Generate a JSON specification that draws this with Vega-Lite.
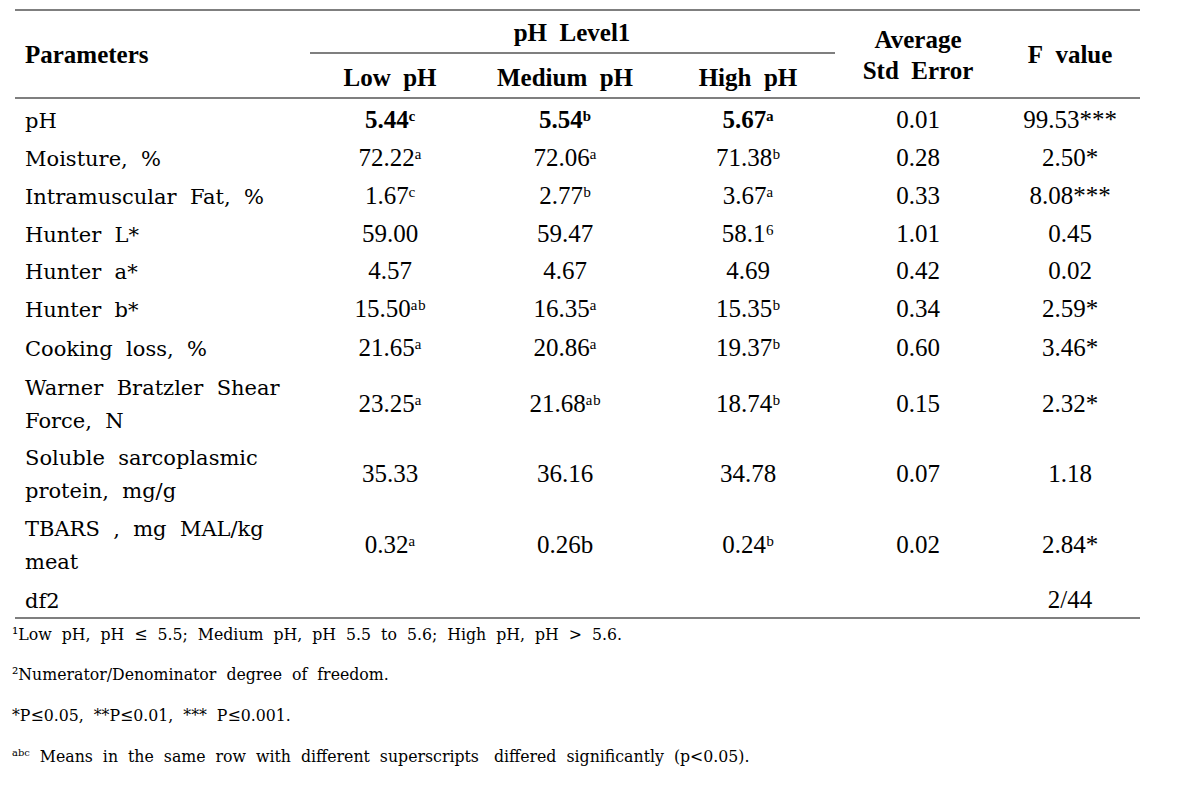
{
  "$schema": "https://vega.github.io/schema/vega-lite/v6.json",
  "width": 1188,
  "height": 789,
  "autosize": {"type": "none"},
  "padding": 0,
  "background": "white",
  "config": {"view": {"stroke": null}},
  "datasets": {
    "cells": [
      {"r": 1, "c": 0, "k": "p", "t": "pH"},
      {"r": 1, "c": 1, "k": "b", "t": "5.44\u1d9c"},
      {"r": 1, "c": 2, "k": "b", "t": "5.54\u1d47"},
      {"r": 1, "c": 3, "k": "b", "t": "5.67\u1d43"},
      {"r": 1, "c": 4, "k": "v", "t": "0.01"},
      {"r": 1, "c": 5, "k": "v", "t": "99.53***"},
      {"r": 2, "c": 0, "k": "p", "t": "Moisture,\u00a0 %"},
      {"r": 2, "c": 1, "k": "v", "t": "72.22\u1d43"},
      {"r": 2, "c": 2, "k": "v", "t": "72.06\u1d43"},
      {"r": 2, "c": 3, "k": "v", "t": "71.38\u1d47"},
      {"r": 2, "c": 4, "k": "v", "t": "0.28"},
      {"r": 2, "c": 5, "k": "v", "t": "2.50*"},
      {"r": 3, "c": 0, "k": "p", "t": "Intramuscular\u00a0 Fat,\u00a0 %"},
      {"r": 3, "c": 1, "k": "v", "t": "1.67\u1d9c"},
      {"r": 3, "c": 2, "k": "v", "t": "2.77\u1d47"},
      {"r": 3, "c": 3, "k": "v", "t": "3.67\u1d43"},
      {"r": 3, "c": 4, "k": "v", "t": "0.33"},
      {"r": 3, "c": 5, "k": "v", "t": "8.08***"},
      {"r": 4, "c": 0, "k": "p", "t": "Hunter\u00a0 L*"},
      {"r": 4, "c": 1, "k": "v", "t": "59.00"},
      {"r": 4, "c": 2, "k": "v", "t": "59.47"},
      {"r": 4, "c": 3, "k": "v", "t": "58.1\u2076"},
      {"r": 4, "c": 4, "k": "v", "t": "1.01"},
      {"r": 4, "c": 5, "k": "v", "t": "0.45"},
      {"r": 5, "c": 0, "k": "p", "t": "Hunter\u00a0 a*"},
      {"r": 5, "c": 1, "k": "v", "t": "4.57"},
      {"r": 5, "c": 2, "k": "v", "t": "4.67"},
      {"r": 5, "c": 3, "k": "v", "t": "4.69"},
      {"r": 5, "c": 4, "k": "v", "t": "0.42"},
      {"r": 5, "c": 5, "k": "v", "t": "0.02"},
      {"r": 6, "c": 0, "k": "p", "t": "Hunter\u00a0 b*"},
      {"r": 6, "c": 1, "k": "v", "t": "15.50\u1d43\u1d47"},
      {"r": 6, "c": 2, "k": "v", "t": "16.35\u1d43"},
      {"r": 6, "c": 3, "k": "v", "t": "15.35\u1d47"},
      {"r": 6, "c": 4, "k": "v", "t": "0.34"},
      {"r": 6, "c": 5, "k": "v", "t": "2.59*"},
      {"r": 7, "c": 0, "k": "p", "t": "Cooking\u00a0 loss,\u00a0 %"},
      {"r": 7, "c": 1, "k": "v", "t": "21.65\u1d43"},
      {"r": 7, "c": 2, "k": "v", "t": "20.86\u1d43"},
      {"r": 7, "c": 3, "k": "v", "t": "19.37\u1d47"},
      {"r": 7, "c": 4, "k": "v", "t": "0.60"},
      {"r": 7, "c": 5, "k": "v", "t": "3.46*"},
      {"r": 8, "c": 0, "k": "p2", "t": "Warner\u00a0 Bratzler\u00a0 Shear\nForce,\u00a0 N"},
      {"r": 8, "c": 1, "k": "v", "t": "23.25\u1d43"},
      {"r": 8, "c": 2, "k": "v", "t": "21.68\u1d43\u1d47"},
      {"r": 8, "c": 3, "k": "v", "t": "18.74\u1d47"},
      {"r": 8, "c": 4, "k": "v", "t": "0.15"},
      {"r": 8, "c": 5, "k": "v", "t": "2.32*"},
      {"r": 9, "c": 0, "k": "p2", "t": "Soluble\u00a0 sarcoplasmic\nprotein,\u00a0 mg/g"},
      {"r": 9, "c": 1, "k": "v", "t": "35.33"},
      {"r": 9, "c": 2, "k": "v", "t": "36.16"},
      {"r": 9, "c": 3, "k": "v", "t": "34.78"},
      {"r": 9, "c": 4, "k": "v", "t": "0.07"},
      {"r": 9, "c": 5, "k": "v", "t": "1.18"},
      {"r": 10, "c": 0, "k": "p2", "t": "TBARS\u00a0 ,\u00a0 mg\u00a0 MAL/kg\nmeat"},
      {"r": 10, "c": 1, "k": "v", "t": "0.32\u1d43"},
      {"r": 10, "c": 2, "k": "v", "t": "0.26b"},
      {"r": 10, "c": 3, "k": "v", "t": "0.24\u1d47"},
      {"r": 10, "c": 4, "k": "v", "t": "0.02"},
      {"r": 10, "c": 5, "k": "v", "t": "2.84*"},
      {"r": 11, "c": 0, "k": "p", "t": "df2"},
      {"r": 11, "c": 5, "k": "v", "t": "2/44"},
      {"r": 12, "c": 0, "k": "n", "t": "\u00b9Low\u00a0 pH,\u00a0 pH\u00a0 \u2264\u00a0 5.5;\u00a0 Medium\u00a0 pH,\u00a0 pH\u00a0 5.5\u00a0 to\u00a0 5.6;\u00a0 High\u00a0 pH,\u00a0 pH\u00a0 >\u00a0 5.6."},
      {"r": 13, "c": 0, "k": "n", "t": "\u00b2Numerator/Denominator\u00a0 degree\u00a0 of\u00a0 freedom."},
      {"r": 14, "c": 0, "k": "n", "t": "*P\u22640.05,\u00a0 **P\u22640.01,\u00a0 ***\u00a0 P\u22640.001."},
      {"r": 15, "c": 0, "k": "n", "t": "\u1d43\u1d47\u1d9c\u00a0 Means\u00a0 in\u00a0 the\u00a0 same\u00a0 row\u00a0 with\u00a0 different\u00a0 superscripts\u00a0\u00a0 differed\u00a0 significantly\u00a0 (p<0.05)."}
    ],
    "head": [
      {"r": 0, "c": 0, "pos": "left", "t": "Parameters"},
      {"r": 0, "c": 5, "pos": "mid", "t": "F\u00a0 value"},
      {"r": 0, "c": 2, "pos": "top", "t": "pH\u00a0 Level1"},
      {"r": 0, "c": 1, "pos": "sub", "t": "Low\u00a0 pH"},
      {"r": 0, "c": 2, "pos": "sub", "t": "Medium\u00a0 pH"},
      {"r": 0, "c": 3, "pos": "sub", "t": "High\u00a0 pH"},
      {"r": 0, "c": 4, "pos": "avg", "t": "Average"},
      {"r": 0, "c": 4, "pos": "std", "t": "Std\u00a0 Error"}
    ],
    "lines": [
      {"name": "top", "r": 0, "c1": 0, "c2": 5},
      {"name": "head", "r": 0, "c1": 0, "c2": 5},
      {"name": "sub", "r": 0, "c1": 1, "c2": 3},
      {"name": "bottom", "r": 11, "c1": 0, "c2": 5}
    ]
  },
  "encoding": {
    "y": {"field": "r", "type": "quantitative", "axis": null,
      "scale": {"domain": [0,1,2,3,4,5,6,7,8,9,10,11,12,13,14,15],
                "range": [55,120,158,196,234,271,309,348,404,474,545,600,635,675,716,757],
                "nice": false, "zero": false}}
  },
  "layer": [
    {
      "data": {"name": "lines"},
      "transform": [{"filter": "datum.name === 'top'"}],
      "mark": {"type": "rule", "color": "black", "strokeWidth": 1.2, "yOffset": -45, "xOffset": -10, "x2Offset": 70},
      "encoding": {
        "x": {"field": "c1", "type": "quantitative", "axis": null,
          "scale": {"domain": [0,1,2,3,4,5], "range": [25,390,565,748,918,1070], "nice": false, "zero": false}},
        "x2": {"field": "c2"}
      }
    },
    {
      "data": {"name": "lines"},
      "transform": [{"filter": "datum.name === 'head'"}],
      "mark": {"type": "rule", "color": "black", "strokeWidth": 1.2, "yOffset": 43, "xOffset": -10, "x2Offset": 70},
      "encoding": {"x": {"field": "c1", "type": "quantitative"}, "x2": {"field": "c2"}}
    },
    {
      "data": {"name": "lines"},
      "transform": [{"filter": "datum.name === 'sub'"}],
      "mark": {"type": "rule", "color": "black", "strokeWidth": 1.2, "yOffset": -2, "xOffset": -80, "x2Offset": 87},
      "encoding": {"x": {"field": "c1", "type": "quantitative"}, "x2": {"field": "c2"}}
    },
    {
      "data": {"name": "lines"},
      "transform": [{"filter": "datum.name === 'bottom'"}],
      "mark": {"type": "rule", "color": "black", "strokeWidth": 1.2, "yOffset": 18, "xOffset": -10, "x2Offset": 70},
      "encoding": {"x": {"field": "c1", "type": "quantitative"}, "x2": {"field": "c2"}}
    },
    {
      "data": {"name": "head"},
      "transform": [{"filter": "datum.pos === 'left'"}],
      "mark": {"type": "text", "align": "left", "baseline": "middle", "font": "Liberation Serif", "fontSize": 25, "fontWeight": "bold", "color": "black"},
      "encoding": {"x": {"field": "c", "type": "quantitative"}, "text": {"field": "t"}}
    },
    {
      "data": {"name": "head"},
      "transform": [{"filter": "datum.pos === 'mid'"}],
      "mark": {"type": "text", "align": "center", "baseline": "middle", "font": "Liberation Serif", "fontSize": 25, "fontWeight": "bold", "color": "black"},
      "encoding": {"x": {"field": "c", "type": "quantitative"}, "text": {"field": "t"}}
    },
    {
      "data": {"name": "head"},
      "transform": [{"filter": "datum.pos === 'top'"}],
      "mark": {"type": "text", "align": "center", "baseline": "middle", "dx": 7, "dy": -22, "font": "Liberation Serif", "fontSize": 25, "fontWeight": "bold", "color": "black"},
      "encoding": {"x": {"field": "c", "type": "quantitative"}, "text": {"field": "t"}}
    },
    {
      "data": {"name": "head"},
      "transform": [{"filter": "datum.pos === 'sub'"}],
      "mark": {"type": "text", "align": "center", "baseline": "middle", "dy": 23, "font": "Liberation Serif", "fontSize": 25, "fontWeight": "bold", "color": "black"},
      "encoding": {"x": {"field": "c", "type": "quantitative"}, "text": {"field": "t"}}
    },
    {
      "data": {"name": "head"},
      "transform": [{"filter": "datum.pos === 'avg'"}],
      "mark": {"type": "text", "align": "center", "baseline": "middle", "dy": -15, "font": "Liberation Serif", "fontSize": 25, "fontWeight": "bold", "color": "black"},
      "encoding": {"x": {"field": "c", "type": "quantitative"}, "text": {"field": "t"}}
    },
    {
      "data": {"name": "head"},
      "transform": [{"filter": "datum.pos === 'std'"}],
      "mark": {"type": "text", "align": "center", "baseline": "middle", "dy": 16, "font": "Liberation Serif", "fontSize": 25, "fontWeight": "bold", "color": "black"},
      "encoding": {"x": {"field": "c", "type": "quantitative"}, "text": {"field": "t"}}
    },
    {
      "data": {"name": "cells"},
      "transform": [{"filter": "datum.k === 'p'"}],
      "mark": {"type": "text", "align": "left", "baseline": "middle", "dy": 1.5, "font": "DejaVu Serif", "fontSize": 21, "color": "black"},
      "encoding": {"x": {"field": "c", "type": "quantitative"}, "text": {"field": "t"}}
    },
    {
      "data": {"name": "cells"},
      "transform": [{"filter": "datum.k === 'p2'"}],
      "mark": {"type": "text", "align": "left", "baseline": "middle", "dy": -15, "lineBreak": "\n", "lineHeight": 33, "font": "DejaVu Serif", "fontSize": 21, "color": "black"},
      "encoding": {"x": {"field": "c", "type": "quantitative"}, "text": {"field": "t"}}
    },
    {
      "data": {"name": "cells"},
      "transform": [{"filter": "datum.k === 'v'"}],
      "mark": {"type": "text", "align": "center", "baseline": "middle", "font": "Liberation Serif", "fontSize": 25, "color": "black"},
      "encoding": {"x": {"field": "c", "type": "quantitative"}, "text": {"field": "t"}}
    },
    {
      "data": {"name": "cells"},
      "transform": [{"filter": "datum.k === 'b'"}],
      "mark": {"type": "text", "align": "center", "baseline": "middle", "font": "Liberation Serif", "fontSize": 25, "fontWeight": "bold", "color": "black"},
      "encoding": {"x": {"field": "c", "type": "quantitative"}, "text": {"field": "t"}}
    },
    {
      "data": {"name": "cells"},
      "transform": [{"filter": "datum.k === 'n'"}],
      "mark": {"type": "text", "align": "left", "baseline": "middle", "dx": -13, "font": "DejaVu Serif Condensed, Liberation Serif", "fontSize": 17.5, "color": "black"},
      "encoding": {"x": {"field": "c", "type": "quantitative"}, "text": {"field": "t"}}
    }
  ]
}
